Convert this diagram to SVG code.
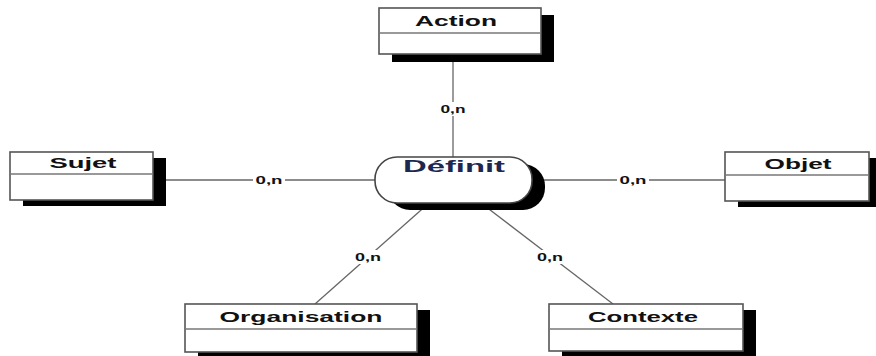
<svg xmlns="http://www.w3.org/2000/svg" width="876" height="356" viewBox="0 0 876 356">
<style>
.shadow{fill:#000}
.box{fill:#fff;stroke:#555;stroke-width:1.6}
.sep{stroke:#777;stroke-width:1.4}
.name{font-family:"Liberation Sans",Arial,sans-serif;font-weight:bold;font-size:15px;fill:#111;text-anchor:middle}
.conn{stroke:#666;stroke-width:1.3;fill:none}
.card{font-family:"Liberation Sans",Arial,sans-serif;font-weight:bold;font-size:10px;fill:#111;text-anchor:middle}
.lbg{fill:#fff}
</style>
<rect width="876" height="356" fill="#fff"/>
<g id="connectors">
<line class="conn" x1="453" y1="54" x2="453" y2="157"/>
<line class="conn" x1="153" y1="180" x2="375" y2="180"/>
<line class="conn" x1="532" y1="180" x2="725" y2="180"/>
<line class="conn" x1="429" y1="203" x2="315" y2="304"/>
<line class="conn" x1="481" y1="203" x2="613" y2="304"/>
<rect class="lbg" x="439" y="102" width="28" height="14"/>
<text class="card" x="453" y="113" textLength="25" lengthAdjust="spacingAndGlyphs">0,n</text>
<rect class="lbg" x="253" y="173" width="32" height="14"/>
<text class="card" x="269" y="184" textLength="27" lengthAdjust="spacingAndGlyphs">0,n</text>
<rect class="lbg" x="617" y="173" width="32" height="14"/>
<text class="card" x="633" y="184" textLength="27" lengthAdjust="spacingAndGlyphs">0,n</text>
<rect class="lbg" x="353" y="250" width="30" height="14"/>
<text class="card" x="368" y="261" textLength="26" lengthAdjust="spacingAndGlyphs">0,n</text>
<rect class="lbg" x="535" y="250" width="30" height="14"/>
<text class="card" x="550" y="261" textLength="26" lengthAdjust="spacingAndGlyphs">0,n</text>
</g>
<g id="action">
<rect class="shadow" x="392" y="15" width="162" height="47"/>
<rect class="box" x="379" y="8" width="162" height="46"/>
<line class="sep" x1="379" y1="33" x2="541" y2="33"/>
<text class="name" x="456" y="26" textLength="82" lengthAdjust="spacingAndGlyphs">Action</text>
</g>
<g id="sujet">
<rect class="shadow" x="23" y="158" width="143" height="48"/>
<rect class="box" x="10" y="152" width="143" height="48"/>
<line class="sep" x1="10" y1="174" x2="153" y2="174"/>
<text class="name" x="83" y="168" textLength="67" lengthAdjust="spacingAndGlyphs">Sujet</text>
</g>
<g id="objet">
<rect class="shadow" x="738" y="158" width="144" height="49"/>
<rect class="box" x="725" y="152" width="144" height="49"/>
<line class="sep" x1="725" y1="175" x2="869" y2="175"/>
<text class="name" x="798" y="169" textLength="67" lengthAdjust="spacingAndGlyphs">Objet</text>
</g>
<g id="definit">
<rect class="shadow" x="388" y="164" width="157" height="46" rx="22" ry="22"/>
<rect x="375" y="157" width="157" height="46" rx="22" ry="22" fill="#fff" stroke="#444" stroke-width="1.6"/>
<text x="454" y="172" font-family="'Liberation Sans',Arial,sans-serif" font-weight="bold" font-size="17" fill="#1c2850" text-anchor="middle" textLength="102" lengthAdjust="spacingAndGlyphs">Définit</text>
</g>
<g id="organisation">
<rect class="shadow" x="198" y="310" width="232" height="48"/>
<rect class="box" x="185" y="304" width="232" height="48"/>
<line class="sep" x1="185" y1="329" x2="417" y2="329"/>
<text class="name" x="301" y="322" textLength="163" lengthAdjust="spacingAndGlyphs">Organisation</text>
</g>
<g id="contexte">
<rect class="shadow" x="562" y="310" width="194" height="48"/>
<rect class="box" x="549" y="304" width="194" height="47"/>
<line class="sep" x1="549" y1="329" x2="743" y2="329"/>
<text class="name" x="643" y="322" textLength="110" lengthAdjust="spacingAndGlyphs">Contexte</text>
</g>
</svg>
